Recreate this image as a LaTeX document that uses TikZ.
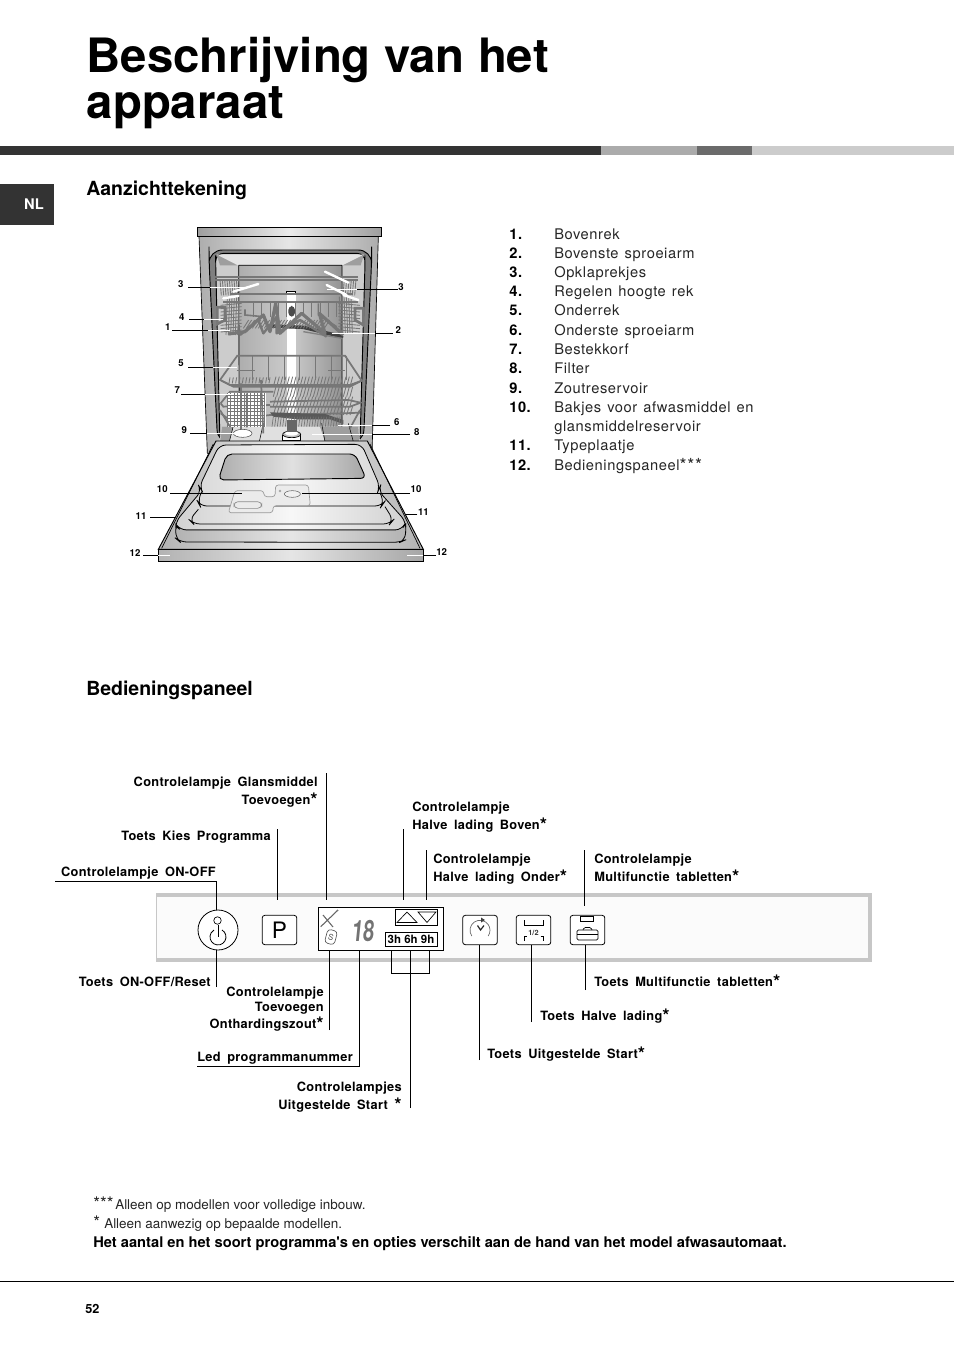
\documentclass[tikz,border=0pt]{standalone}
\usepackage{fontspec}
\setmainfont{TeX Gyre Heros}
\newfontfamily\lblfont[WordSpace=1.7,LetterSpace=2.5]{TeX Gyre Heros}
\newfontfamily\listfont[WordSpace=1.3,LetterSpace=4]{TeX Gyre Heros}
\newfontfamily\plainfont{TeX Gyre Heros}
\usetikzlibrary{calc}
\definecolor{barD}{HTML}{333333}
\definecolor{rackG}{HTML}{777777}
\newcommand\st{\raisebox{-.2em}{\fontsize{14pt}{14pt}\selectfont *}}
\tikzset{
 lbl/.style={inner sep=0pt,font={\lblfont\fontsize{9.6pt}{11pt}\selectfont\bfseries}},
 num/.style={inner sep=0pt,font={\fontsize{7.2pt}{8pt}\selectfont\bfseries}},
 itm/.style={inner sep=0pt,anchor=base west,font={\listfont\fontsize{11pt}{13pt}\selectfont},text=black!85},
 itmn/.style={inner sep=0pt,anchor=base west,font={\listfont\fontsize{11pt}{13pt}\selectfont\bfseries}},
 head/.style={inner sep=0pt,anchor=base west,font={\fontsize{14.6pt}{17pt}\selectfont\bfseries}},
 foot/.style={inner sep=0pt,anchor=base west,font={\plainfont\fontsize{10.1pt}{11pt}\selectfont},text=black!85},
 fstar/.style={inner sep=0pt,anchor=base west,font={\plainfont\fontsize{13pt}{13pt}\selectfont},text=black!85},
 lead/.style={line width=.7pt,black},
 wlead/.style={line width=.7pt,white},
 wire/.style={line width=.65pt,rackG},
 rail/.style={line width=1.3pt,rackG},
 btn/.style={draw=black,line width=.6pt,rounded corners=2pt,fill=white},
}
\newcommand\bw[5]{%id, x0 black start, xm, x1, y
 \coordinate (#1a) at (#2,#5);\coordinate (#1m) at (#3,#5);\coordinate (#1b) at (#4,#5);
 \draw[lead] (#1a)--(#1m);\draw[wlead] (#1m)--(#1b);}
\begin{document}
\begin{tikzpicture}[x=.75pt,y=-.75pt]
\useasboundingbox (0,0) rectangle (954,1351);
\fill[white] (0,0) rectangle (954,1351);
% title
\node[inner sep=0pt,anchor=base west,font={\fontsize{35.5pt}{35pt}\selectfont\bfseries}] (t1) at (86.5,73) {Beschrijving van het};
\node[inner sep=0pt,anchor=base west,font={\fontsize{35.5pt}{35pt}\selectfont\bfseries}] (t2) at (86.5,119) {apparaat};
% header bar
\fill[barD] (0,146) rectangle (601,155);
\fill[black!33] (601,146) rectangle (697,155);
\fill[black!58] (697,146) rectangle (752,155);
\fill[black!20] (752,146) rectangle (954,155);
\node[fill=barD,minimum width=40.5pt,minimum height=30.75pt,inner sep=0pt,anchor=north west] (nlbox) at (0,184) {};
\node[inner sep=0pt,text=white,font={\fontsize{11pt}{12pt}\selectfont\bfseries}] (nl) at (34,204.5) {NL};
\node[head] (h1) at (86,196) {Aanzichttekening};
\node[head] (h2) at (86,695.5) {Bedieningspaneel};
% list
\foreach \n/\y/\tx in {1/239.5/Bovenrek,2/258.5/Bovenste sproeiarm,3/277.5/Opklaprekjes,4/296.5/Regelen hoogte rek,5/316/Onderrek,6/335.5/Onderste sproeiarm,7/354/Bestekkorf,8/373.5/Filter,9/393/Zoutreservoir,10/412/Bakjes voor afwasmiddel en,11/450/Typeplaatje}{
 \node[itmn] (n\n) at (509,\y) {\n.};
 \node[itm] (i\n) at (554,\y) {\tx};
}
\node[itm] (i10b) at (554,431) {glansmiddelreservoir};
\node[itmn] (n12) at (509,470) {12.};
\node[itm] (i12) at (554,470) {Bedieningspaneel\raisebox{-.1em}{\fontsize{13.5pt}{13pt}\selectfont***}};
% ===== dishwasher, in zoom coordinates
\begin{scope}[shift={(130,220)},x=.25pt,y=-.25pt]
 % body
 \path[left color=black!32,right color=black!32,middle color=black!10,draw=black,line width=.5pt]
   (207,50)--(745,50)--(726,700)--(232,700)--cycle;
 % cap
 \path[left color=black!38,right color=black!38,middle color=black!8,draw=black,line width=.7pt]
   (202,22) rectangle (755,50);
 % gasket
 \path[fill=black!50,draw=black,line width=.7pt,rounded corners=10pt]
   (263,670)--(237,120)--(237,90)--(725,90)--(725,120)--(700,670)--cycle;
 % interior
 \path[fill=black!20,draw=black,line width=.7pt,rounded corners=6pt]
   (270,670)--(257,130)--(257,100)--(705,100)--(705,130)--(690,670)--cycle;
 \fill[black!10] (260,104)--(702,104)--(638,136)--(325,136)--cycle;
 \fill[black!38] (260,104)--(322,136)--(270,136)--cycle;
 \fill[black!38] (702,104)--(638,136)--(692,136)--cycle;
 \path[left color=black!32,right color=black!42,middle color=black!20]
   (326,136) rectangle (636,620);
 \draw[line width=.5pt] (326,136)--(636,136) (326,136)--(328,620) (636,136)--(636,620);
 % floor
 \fill[black!12] (276,620)--(685,620)--(690,665)--(268,665)--cycle;
 \fill[black!38] (276,620)--(310,620)--(298,665)--(270,665)--cycle;
 \fill[black!38] (585,665)--(570,620)--(685,620)--(688,665)--cycle;
 \draw[line width=.4pt] (312,610)--(298,665) (400,610)--(388,665) (575,610)--(585,665) (655,610)--(670,665);
 % tube
 \fill[white] (470,215) rectangle (497,640);
 \draw[line width=.6pt] (470,225)--(470,213)--(497,213)--(497,225);
 \fill[black!70,rounded corners=3pt] (475,258) rectangle (495,290);
 % upper rack rails
 \draw[rail] (255,172)--(685,172) (255,179)--(685,179);
 \draw[rail] (300,222)--(670,222);
 \draw[rail] (280,245)--(685,245);
 \foreach \x in {270,277,...,326}{\draw[wire] (\x,178)--(\x+4,226);}
 \foreach \x in {636,643,...,684}{\draw[wire] (\x,178)--(\x-4,226);}
 \foreach \x in {292,299,...,332}{\draw[wire] (\x,230)--(\x-4,345);}
 \foreach \x in {628,635,...,668}{\draw[wire] (\x,230)--(\x+4,340);}
 \foreach \y in {250,260,...,330}{\draw[wire] (272,\y+6)--(335,\y);\draw[wire] (625,\y)--(690,\y+6);}
 \draw[rail,line width=2pt] (262,262)--(285,262)--(285,300)--(262,312)--cycle;
 \draw[rail,line width=2pt] (700,265)--(675,265)--(675,300)--(700,315)--cycle;
 \draw[rail,line width=1.2pt] (345,268)--(345,285)--(400,290) (565,250)--(565,285)--(620,320);
 \foreach \x in {370,395,...,620}{\draw[wire] (\x,250)--(\x,290);}
 % spray arm
 \draw[black!75,line width=2.6pt,line cap=round] (420,318)--(520,322)--(636,350);
 \draw[black!50,line width=1pt] (520,335)--(636,355);
 % zigzag baskets
 \draw[rackG,line width=2.4pt,line join=round] (295,342)--(345,335)--(400,285)--(420,335)--(437,250)--(450,340)--(515,280)--(585,340)--(568,280)--(640,345);
 \draw[rackG,line width=1.8pt,line join=round] (330,345)--(385,300)--(400,340)--(440,290)--(440,340)--(510,300)--(590,350);
 \foreach \x in {340,349,...,590}{\draw[wire] (\x,325)--(\x+16,300);}
 % clips
 \draw[white,line width=1.8pt,line cap=round] (585,155)--(655,188) (590,195)--(650,225) (640,225)--(685,240) (310,215)--(385,192) (280,235)--(325,228);
 % lower rack
 \draw[rail] (322,407)--(645,407)--(695,482)--(660,495)--(300,495)--(270,480)--cycle;
 \foreach \x in {368,415,...,650}{\draw[wire] (\x,407)--(\x,480);}
 \draw[wire,line width=1pt] (320,452)--(375,452) (595,452)--(645,452);
 \foreach \x in {430,440,...,660}{\draw[wire] (\x,500)--(\x+8,470);\draw[wire] (\x,530)--(\x+8,500);\draw[wire] (\x,558)--(\x+8,530);\draw[wire] (\x,585)--(\x+8,558);}
 \foreach \x in {300,310,...,420}{\draw[wire] (\x,472)--(\x-3,490);}
 \draw[rail] (275,482)--(310,500)--(660,500)--(695,482);
 \draw[rail] (272,550)--(300,515)--(430,515);
 \draw[rail] (272,550)--(280,560)--(420,555) (420,545)--(655,540)--(692,548)--(660,560)--(420,560);
 \draw[rail] (272,580)--(300,600)--(420,585)--(640,580)--(690,578);
 % cutlery basket
 \fill[white] (290,520) rectangle (408,622);
 \foreach \x in {292,302,...,402}{\draw[wire,line width=.35pt] (\x,520)--(\x,620);}
 \foreach \y in {525,535,...,615}{\draw[wire,line width=.35pt] (290,\y)--(406,\y);}
 \draw[rail] (350,520)--(350,622) (333,490)--(333,640) (393,480)--(400,640);
 \fill[black!65] (420,577)--(585,582)--(640,600)--(640,612)--(600,598)--(500,598)--(430,590)--cycle;
 \foreach \x in {430,438,...,640}{\draw[black!55,line width=.5pt] (\x,590)--(\x-4,620);}
 \draw[rail] (300,620)--(270,570) (660,625)--(690,570);
 % filter and salt
 \fill[white,draw=black,line width=.5pt] (458,645) -- (458,662) -- (512,662) -- (512,645);
 \fill[black!25,draw=black,line width=.5pt] (485,643) ellipse (27 and 10);
 \fill[white] (485,640) ellipse (20 and 7);
 \fill[black!60] (470,600) rectangle (500,635);
 \fill[white,draw=black!70,line width=.4pt] (338,640) ellipse (28 and 12);
 % door
 \path[left color=black!30,right color=black!30,middle color=black!8,draw=black,line width=.7pt]
   (258,663)--(712,663)--(880,988)--(85,988)--cycle;
 \draw[line width=.5pt] (250,672)--(95,985) (720,672)--(870,985);
 % tray outline
 \path[left color=black!18,right color=black!18,middle color=black!3,draw=black,line width=.6pt,rounded corners=5pt]
   (268,675)--(695,673)--(750,800)--(745,812)--(828,905)--(826,930)--(137,930)--(137,905)--(215,812)--(208,800)--cycle;
 % lip
 \path[left color=black!30,right color=black!30,middle color=black!10,draw=black,line width=.6pt,rounded corners=5pt]
   (137,912)--(150,930)--(815,930)--(828,905)--(826,960)--(810,967)--(150,966)--(137,955)--cycle;
 % recess
 \path[left color=black!32,right color=black!35,middle color=black!12,draw=black,line width=.7pt,rounded corners=4pt]
   (290,702)--(675,702)--(708,775)--(265,780)--cycle;
 % ledges
 \draw[line width=.6pt,rounded corners=5pt] (215,815)--(203,845)--(210,858)--(755,858)--(762,848)--(750,818);
 \draw[line width=.6pt,rounded corners=5pt] (205,868)--(178,900)--(190,912)--(780,912)--(790,900)--(765,860);
 % dispensers
 \path[fill=black!8,draw=black!40,line width=.5pt,rounded corners=2pt]
   (315,812)--(400,812)--(403,830)--(435,830)--(437,795)--(535,795)--(541,857)--(430,857)--(428,878)--(295,878)--cycle;
 \draw[black!45,line width=.5pt,rounded corners=3pt] (312,845) rectangle (395,865);
 \fill[black!6,draw=black!60,line width=.4pt] (487,822) ellipse (24 and 10);
 \fill[black!35] (450,813) circle (4);
 % front panel
 \path[left color=black!30,right color=black!35,middle color=black!10,draw=black,line width=.7pt]
   (85,988) rectangle (880,1025);
 % leaders
 \bw{l3}{175}{240}{350}{203}
 \bw{r3}{805}{680}{590}{208}
 \bw{l4}{178}{222}{278}{298}
 \bw{l1}{127}{235}{300}{330}
 \bw{r2}{788}{735}{605}{340}
 \bw{l5}{175}{248}{322}{441}
 \bw{l7}{153}{225}{312}{523}
 \bw{l9}{180}{232}{318}{639}
 \bw{r6}{780}{725}{625}{615}
 \bw{r8}{840}{725}{545}{642}
 \bw{l10}{120}{335}{335}{820}
 \bw{r10}{840}{515}{515}{820}
 \bw{l11}{60}{135}{135}{891}
 \bw{r11}{862}{825}{825}{883}
 \bw{l12}{40}{85}{120}{1007}
 \bw{r12}{918}{880}{830}{1007}
 \foreach \nm/\xx/\yy/\tx in {a/152/193/3,b/813/201/3,c/155/290/4,d/113/320/1,e/805/330/2,f/153/430/5,g/142/510/7,h/163/630/9,i/800/607/6,j/860/635/8,k/97/808/10,m/858/807/10,o/33/888/11,p/880/877/11,q/15/1000/12,s/935/997/12}{
  \node[num] (lab\nm) at (\xx,\yy) {\tx};
 }
\end{scope}
% ===== control panel
\fill[black!1.5] (156,895) rectangle (870,960);
\draw[black!22,line width=3pt] (156,895)--(870,895)--(870,960)--(156,960);
\draw[black!22,line width=.7pt] (156,893.5)--(156,961.5);
% power
\node[circle,draw=black,line width=.6pt,fill=white,minimum size=30pt,inner sep=0pt] (pwr) at (218,930) {};
\node[circle,draw=black,line width=.5pt,minimum size=5.6pt,inner sep=0pt] (pwrled) at (217.5,920.5) {};
\draw[line width=.6pt] (222,930) arc[start angle=60,end angle=-240,radius=6pt];
\draw[line width=.6pt] (218,925)--(218,937);
% P
\node[btn,minimum width=26pt,minimum height=22pt,inner sep=0pt,font={\fontsize{17pt}{17pt}\selectfont}] (pbtn) at (279.5,930) {P};
% display
\node[draw=black,line width=.7pt,fill=white,minimum width=93.75pt,minimum height=32.25pt,inner sep=0pt] (disp) at (380.5,928.5) {};
\node[draw=black,line width=.7pt,minimum width=31.5pt,minimum height=12pt,inner sep=0pt] (arrows) at (416,917) {};
\draw[line width=.5pt] (397,922.5)--(407,912)--(417,922.5)--cycle (418,912)--(436,912)--(427,922.5)--cycle;
\node[draw=black,line width=.7pt,minimum width=39pt,minimum height=10.5pt,inner sep=0pt,font={\plainfont\fontsize{8.6pt}{9pt}\selectfont\bfseries}] (hrs) at (411,939) {3h 6h 9h};
\draw[black!60,line width=.8pt] (320.7,926.7)--(338,910) (323,915)--(333,927);
\node[inner sep=0pt,text=black!50,font={\fontsize{4pt}{5pt}\selectfont}] (pl) at (337.7,911) {+};
\node[draw=black!65,line width=.5pt,rounded corners=2.5pt,rotate=-15,minimum width=7.5pt,minimum height=10.5pt,inner sep=0pt,font={\fontsize{6pt}{6pt}\selectfont},text=black!70] (salt) at (331,937) {S};
\node[inner sep=0pt,text=black!55,font={\fontsize{22pt}{22pt}\selectfont\bfseries},xslant=.1,xscale=.68] (led) at (363.5,931.5) {18};
% buttons
\node[btn,minimum width=26pt,minimum height=22pt,inner sep=0pt] (bclock) at (480,930) {};
\draw[black!60,line width=.5pt] (471.8,936) arc[start angle=215,end angle=-35,radius=7.5pt];
\fill[black!75] (481,917.5)--(485,920)--(481,922.5)--cycle;
\draw[black!85,line width=.9pt] (477.5,925.5)--(480.5,930)--(484,925.5);
\node[btn,minimum width=26pt,minimum height=22pt,inner sep=0pt] (bhalf) at (533.5,930) {};
\draw[line width=.5pt] (524,920)--(524,925)--(543.5,925)--(543.5,920) (524,941)--(524,936.5) -- (527,936.5) (540.5,936.5)--(543.5,936.5)--(543.5,941) ;
\node[inner sep=0pt,font={\fontsize{5.5pt}{6pt}\selectfont\bfseries},text=black!80] (half) at (533.5,932.5) {1/2};
\node[btn,minimum width=26pt,minimum height=22pt,inner sep=0pt] (bmult) at (587.5,930) {};
\node[draw=black,line width=.5pt,minimum width=10pt,minimum height=3.6pt,inner sep=0pt] (mled) at (587,918.5) {};
\draw[line width=.5pt,rounded corners=1pt] (577,930) rectangle (598,940) (577,934.5)--(598,934.5);
\draw[line width=.5pt,rounded corners=1pt] (583,930)--(584,927.5)--(591,927.5)--(592,930);
% labels
\node[lbl,anchor=base east] (a1) at (318,786) {Controlelampje Glansmiddel};
\node[lbl,anchor=base east] (a2) at (318,804) {Toevoegen\st};
\node[lbl,anchor=base east] (a3) at (271,840) {Toets Kies Programma};
\node[lbl,anchor=base east] (a4) at (216,876) {Controlelampje ON-OFF};
\node[lbl,anchor=base east] (a5) at (211,986) {Toets ON-OFF/Reset};
\node[lbl,anchor=base east] (a6) at (324,996) {Controlelampje};
\node[lbl,anchor=base east] (a7) at (324,1011) {Toevoegen};
\node[lbl,anchor=base east] (a8) at (324,1028) {Onthardingszout\st};
\node[lbl,anchor=base east] (a9) at (353,1061) {Led programmanummer};
\node[lbl,anchor=base east] (a10) at (402,1091) {Controlelampjes};
\node[lbl,anchor=base east] (a11) at (402,1109) {Uitgestelde Start \st};
\node[lbl,anchor=base west] (b1) at (412,811) {Controlelampje};
\node[lbl,anchor=base west] (b2) at (412,829) {Halve lading Boven\st};
\node[lbl,anchor=base west] (b3) at (433,863) {Controlelampje};
\node[lbl,anchor=base west] (b4) at (433,881) {Halve lading Onder\st};
\node[lbl,anchor=base west] (b5) at (594,863) {Controlelampje};
\node[lbl,anchor=base west] (b6) at (594,881) {Multifunctie tabletten\st};
\node[lbl,anchor=base west] (b7) at (594,986) {Toets Multifunctie tabletten\st};
\node[lbl,anchor=base west] (b8) at (540,1020) {Toets Halve lading\st};
\node[lbl,anchor=base west] (b9) at (487,1058) {Toets Uitgestelde Start\st};
% connectors
\coordinate (c1) at (326,773);\coordinate (c1e) at (326,900);\draw[lead] (c1)--(c1e);
\coordinate (c2) at (277.5,829);\coordinate (c2e) at (277.5,900);\draw[lead] (c2)--(c2e);
\coordinate (c3) at (55,881);\coordinate (c3k) at (216.5,881);\draw[lead] (c3)--(c3k)--(c3k|-pwr.north);
\coordinate (c4) at (216.5,987);\draw[lead] (c4)--(c4|-pwr.south);
\coordinate (c5) at (329.5,1030);\coordinate (c5e) at (329.5,950);\draw[lead] (c5)--(c5e);
\coordinate (c6) at (197,1066);\coordinate (c6k) at (359.5,1066);\coordinate (c6e) at (359.5,950);\draw[lead] (c6)--(c6k)--(c6e);
\coordinate (c7) at (410.5,1108);\coordinate (c7k) at (410.5,973);\draw[lead] (c7)--(c7k);
\coordinate (c7a) at (391.5,973);\coordinate (c7b) at (429.5,973);\coordinate (c7c) at (391.5,950);\coordinate (c7d) at (429.5,950);\coordinate (c7f) at (410.5,950);
\draw[lead] (c7c)--(c7a)--(c7b)--(c7d) (c7k)--(c7f);
\coordinate (c8) at (403.5,829);\coordinate (c8e) at (403.5,900);\draw[lead] (c8)--(c8e);
\coordinate (c9) at (426,850);\coordinate (c9e) at (426,900);\draw[lead] (c9)--(c9e);
\coordinate (c10) at (584.5,850);\coordinate (c10e) at (584.5,906);\draw[lead] (c10)--(c10e);
\coordinate (c11) at (585,990);\draw[lead] (c11)--(c11|-bmult.south);
\coordinate (c12) at (531.5,1022);\draw[lead] (c12)--(c12|-bhalf.south);
\coordinate (c13) at (479.5,1060);\draw[lead] (c13)--(c13|-bclock.south);
% footer
\node[fstar] (f1s) at (93,1209.5) {***};
\node[foot] (f1) at (115,1209) {Alleen op modellen voor volledige inbouw.};
\node[fstar] (f2s) at (93,1228.5) {*};
\node[foot] (f2) at (104,1228) {Alleen aanwezig op bepaalde modellen.};
\node[foot,text=black,font={\plainfont\fontsize{11pt}{12pt}\selectfont\bfseries}] (f3) at (93,1247) {Het aantal en het soort programma's en opties verschilt aan de hand van het model afwasautomaat.};
\coordinate (fl1) at (0,1281.5);\coordinate (fl2) at (954,1281.5);\draw[line width=.5pt] (fl1)--(fl2);
\node[inner sep=0pt,anchor=base west,font={\fontsize{9.5pt}{11pt}\selectfont\bfseries}] (pg) at (85,1313) {52};
\end{tikzpicture}
\end{document}
